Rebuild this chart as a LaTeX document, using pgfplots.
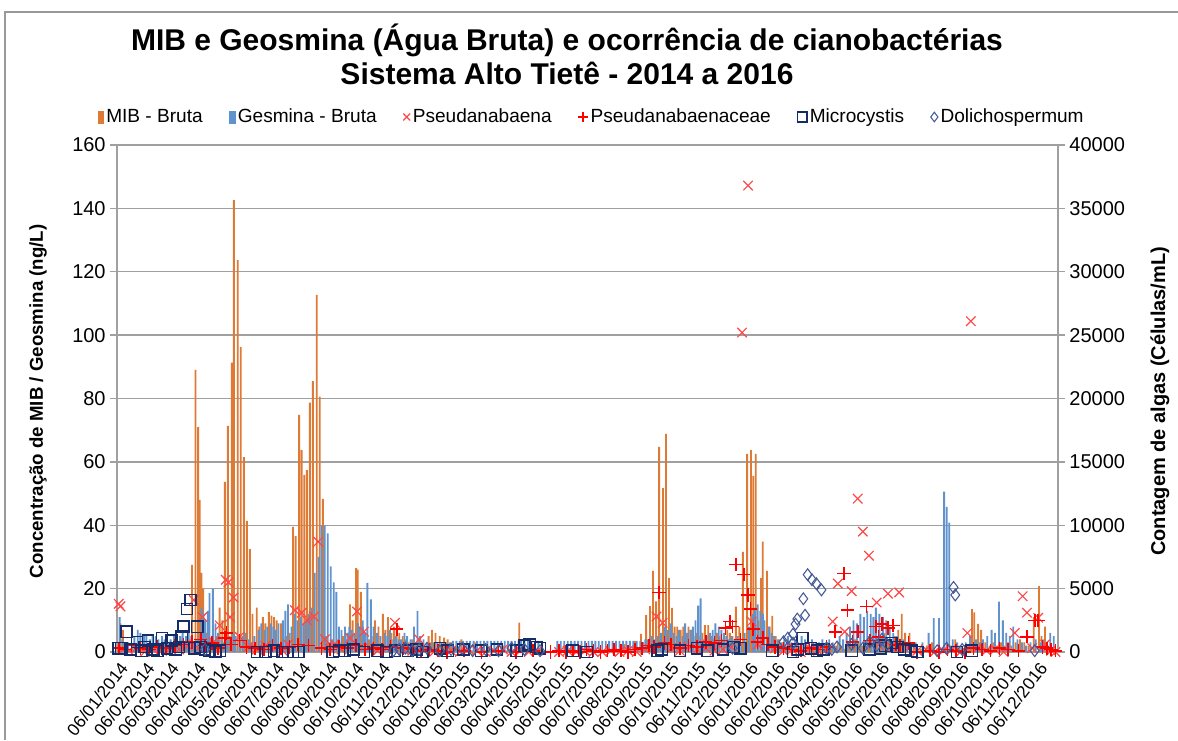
\documentclass[border=0pt]{standalone}
\usepackage{pgfplots}
\pgfplotsset{compat=1.18}
\usepackage{pgfplotstable}
\usepackage{fontspec}
\setmainfont{Liberation Sans}
\definecolor{mib}{RGB}{222,122,52}
\definecolor{geo}{RGB}{96,146,206}
\definecolor{pseu}{RGB}{255,70,70}
\definecolor{pseuc}{RGB}{255,0,0}
\definecolor{micro}{RGB}{20,45,105}
\definecolor{doli}{RGB}{70,90,150}
\definecolor{gridc}{RGB}{160,160,160}

\pgfplotstableread[row sep=\\]{
x mib geo \\
0 2 11 \\ 3 9 4 \\ 6 7 3 \\ 10 2 3 \\ 14 1 2 \\ 17 2 5 \\ 21 1 7 \\ 24 1 6 \\ 28 2 5 \\ 31 1 5 \\
35 1 4 \\ 38 2 5 \\ 42 1 5 \\ 45 2 4 \\ 49 1 5 \\ 52 2 4 \\ 56 1 3 \\ 59 1 4 \\ 63 2 5 \\ 66 3 4 \\
70 2 5 \\ 73 4 6 \\ 77 3 5 \\ 80 5 6 \\ 83 4 5 \\ 86 27.5 3 \\ 90 89 4 \\ 93 71 5 \\ 95 48 14 \\ 97 25 12 \\
99 20 10 \\ 102 6 13 \\ 104 5 18.6 \\ 108 4 20 \\ 111 3 9 \\ 114 5 6 \\ 118 14 4 \\ 121 10 3 \\ 124 53.7 4 \\ 127.5 71.4 5 \\
132 91.3 6 \\ 134.5 142.6 5 \\ 139 123.7 4 \\ 142.5 96.3 5 \\ 146 61.5 6 \\ 149.5 41.4 4 \\ 153 32.5 3 \\ 156 12 5 \\ 161 14 7 \\ 164 8 9 \\
168 11 7 \\ 171 9 8 \\ 175 12.6 9 \\ 178 11.5 8 \\ 181 11 7 \\ 184 10 9 \\ 189 9 10 \\ 192 5 13 \\ 195 5 15 \\ 199 6 8 \\
203 39.5 12 \\ 206 36.6 10 \\ 210 74.8 11 \\ 213 63.7 9 \\ 216 55.9 10 \\ 219 57.4 12 \\ 222.5 78.7 14 \\ 226 85.5 25 \\ 230.5 112.7 30 \\ 234 80.6 40 \\
237.5 48.3 40 \\ 241 5 37.4 \\ 244.5 3 27 \\ 248 4 22 \\ 251 3 19 \\ 254 4 8 \\ 257 3 7 \\ 261 5 8 \\ 264 4 6 \\ 266 6 8 \\
269 15 7 \\ 272 10 6 \\ 276 26.5 9 \\ 278 26 8 \\ 281.5 19 10 \\ 284 8 6 \\ 287 5 21.8 \\ 291 4 16.6 \\ 294 5 8 \\ 298 10 6 \\
302 8 5 \\ 307 12 6 \\ 310 7 5 \\ 313 11 7 \\ 317 6 4 \\ 320 8 5 \\ 323 7 4 \\ 326 6 4 \\ 330 5 6 \\ 333 4 5 \\
337 3 4 \\ 341 4 8 \\ 345 3 13 \\ 348 4 5 \\ 352 3 4 \\ 356 2 3 \\ 360 5 3 \\ 364 7 3 \\ 368 6 3 \\ 373 5 3 \\
378 4.5 3 \\ 382 4 3 \\ 386 3 3.5 \\ 390 1 3.5 \\ 394 0.5 3.5 \\ 398 4 3.5 \\ 402 0.5 3.5 \\ 406 1 3.5 \\ 410 0.5 3.5 \\ 414 3 3.5 \\
418 0.5 3.5 \\ 422 1 3.5 \\ 426 0.5 3.5 \\ 430 1 3.5 \\ 434 0.5 3.5 \\ 438 1 3.5 \\ 442 0.5 3.5 \\ 446 2 3.5 \\ 450 0.5 3.5 \\ 454 1 3.5 \\
458 0.5 3.5 \\ 462 1 3.5 \\ 465 9.3 3.5 \\ 469 0.5 3.5 \\ 473 1 3.5 \\ 477 0.5 3.5 \\ 481 1 3.5 \\ 485 0.5 3.5 \\ 489 1 3.5 \\ 507 0.5 3.5 \\
511 1 3.5 \\ 515 0.5 3.5 \\ 519 1 3.5 \\ 523 0.5 3.5 \\ 527 1 3.5 \\ 531 0.5 3.5 \\ 535 1 3.5 \\ 539 0.5 3.5 \\ 543 1 3.5 \\ 547 0.5 3.5 \\
551 1 3.5 \\ 555 0.5 3.5 \\ 559 1 3.5 \\ 563 0.5 3.5 \\ 567 1 3.5 \\ 571 0.5 3.5 \\ 575 1 3.5 \\ 579 0.5 3.5 \\ 583 1 3.5 \\ 587 2.5 3.5 \\
591 0.5 3.5 \\ 595 1 3.5 \\ 599 3.5 3.5 \\ 603 1 3.5 \\ 606 5.7 3 \\ 609 3 4 \\ 612 11.6 4 \\ 616.5 14.5 5 \\ 620 25.6 4 \\ 623.5 16 5 \\
627 64.7 6 \\ 631.5 51.7 8 \\ 635 68.8 7 \\ 638.5 23.4 9 \\ 642 13.9 6 \\ 645 8 5 \\ 648 8 7 \\ 652 7 5 \\ 655 8 9 \\ 658 6 6 \\
661 8 7 \\ 664 7 8 \\ 667 5 10 \\ 670 6 14.6 \\ 673 5 16.9 \\ 677 6 4 \\ 680 8.5 5 \\ 684 8.5 6 \\ 687 5 7 \\ 690 4 9 \\
694 6 8 \\ 697 5 7 \\ 700 4 6 \\ 703 5 5 \\ 706 7 4 \\ 709 6 5 \\ 712 5 4 \\ 716 14.3 5 \\ 720 8 3 \\ 724 31.6 6 \\
729 62.5 8 \\ 733.5 63.7 12 \\ 736 55.6 14 \\ 739 62.5 15 \\ 742 10 13 \\ 745 23.3 12 \\ 747 34.8 10 \\ 752 25.6 8 \\ 755 8 6 \\ 758 11.4 5 \\
762 5 4 \\ 766 4 3 \\ 770 3 4 \\ 774 2 5 \\ 778 3 3 \\ 782 2 4 \\ 786 3 3 \\ 790 2 5 \\ 794 1 4 \\ 798 2 3 \\
802 1 4 \\ 806 2 3 \\ 810 1 3 \\ 814 1 4 \\ 818 2 3 \\ 822 3 4 \\ 826 1 3 \\ 830 2 2 \\ 834 3 5 \\ 838 2 4 \\
842 1 6 \\ 846 3 8 \\ 850 2 10 \\ 854 4 9 \\ 858 3 12 \\ 862 2 11 \\ 866 3 13 \\ 870 5 12 \\ 873 4 11 \\ 876 3 14 \\
880 2 12 \\ 884 5 11 \\ 888 6 10 \\ 892 4 8 \\ 896 3 6 \\ 900 5 5 \\ 904 7 4 \\ 908 12 4 \\ 912 6 3 \\ 917 6 2 \\
922 2 3 \\ 930 1 3 \\ 937 2 6 \\ 943 3 10.7 \\ 949 1 10.7 \\ 955 1 50.6 \\ 958 1 45.8 \\ 961 1 40.8 \\ 965 2 4 \\ 970 4 3 \\
975 2 2 \\ 980 1 3 \\ 985 2 5 \\ 989.5 13.5 3 \\ 992 12.5 4 \\ 996.5 8.9 3 \\ 1000 7 4 \\ 1005 3 5 \\ 1010 2 7 \\ 1014 3 6 \\
1018.5 2 15.9 \\ 1023 3 10 \\ 1027 2 6 \\ 1031 3 5 \\ 1035 2 8 \\ 1040 3 4 \\ 1045 4 3 \\ 1050 3 2 \\ 1055 2 3 \\ 1061 11 4 \\
1067 20.8 3 \\ 1070 5 4 \\ 1074 8 3 \\ 1078 2 6 \\ 1082 1 5 \\
}\bars

\pgfplotsset{
  commonaxis/.style={
    scale only axis, width=705.75pt, height=380.25pt,
    at={(87.75pt,66pt)}, anchor=south west,
    xmin=-2, xmax=1088,
    tick label style={font=\fontsize{15}{15}\selectfont},
    /pgf/number format/assume math mode=true,
    /pgf/number format/1000 sep={},
  }
}

\begin{document}
\begin{tikzpicture}
% frame
\draw[gray!80, line width=0.8pt] (3.75pt,0pt) -- (3.75pt,546pt) -- (883.5pt,546pt);
% title
\node[align=center, font=\bfseries\fontsize{22.5}{25.5}\selectfont] at (425.25pt,514pt)
  {MIB e Geosmina (Água Bruta) e ocorrência de cianobactérias\\Sistema Alto Tietê - 2014 a 2016};
% y labels
\node[rotate=90, font=\bfseries\fontsize{14}{14}\selectfont] at (28.5pt,254pt) {Concentração de MIB / Geosmina (ng/L)};
\node[rotate=90, font=\bfseries\fontsize{15}{15}\selectfont] at (870pt,254pt) {Contagem de algas (Células/mL)};

\begin{axis}[commonaxis,
  ymin=0, ymax=160, ytick={0,20,...,160},
  axis x line*=bottom, axis y line*=left,
  axis line style={gridc, line width=1pt},
  ymajorgrids, grid style={gridc, line width=1pt},
  ytick style={gridc, line width=1pt}, tick align=outside, major tick length=5pt,
  xtick={0,31,59,90,120,151,181,212,243,273,304,334,365,396,424,455,485,516,546,577,608,638,669,699,730,761,790,821,851,882,912,943,974,1004,1035,1065},
  xticklabels={06/01/2014,06/02/2014,06/03/2014,06/04/2014,06/05/2014,06/06/2014,06/07/2014,06/08/2014,06/09/2014,06/10/2014,06/11/2014,06/12/2014,06/01/2015,06/02/2015,06/03/2015,06/04/2015,06/05/2015,06/06/2015,06/07/2015,06/08/2015,06/09/2015,06/10/2015,06/11/2015,06/12/2015,06/01/2016,06/02/2016,06/03/2016,06/04/2016,06/05/2016,06/06/2016,06/07/2016,06/08/2016,06/09/2016,06/10/2016,06/11/2016,06/12/2016},
  xtick style={draw=none},
  xticklabel style={rotate=52, anchor=north east, inner sep=1pt, font=\fontsize{13}{13}\selectfont},
  ybar=0pt, bar width=1.4pt,
]
\addplot[draw=none, fill=mib] table[x=x, y=mib] {\bars};
\addplot[draw=none, fill=geo] table[x=x, y=geo] {\bars};
\end{axis}

\begin{axis}[commonaxis,
  ymin=0, ymax=40000, ytick={0,5000,...,40000},
  axis x line=none, axis y line*=right,
  axis line style={gridc, line width=1pt},
  ytick style={gridc, line width=1pt}, tick align=outside, major tick length=5pt,
  scaled y ticks=false,
  clip=false,
  legend style={at={(0.5048,1.0552)}, anchor=center, draw=none, fill=none,
    legend columns=-1, font=\fontsize{14.3}{15}\selectfont,
    /tikz/every even column/.append style={column sep=18pt},
    /tikz/every odd column/.append style={column sep=0pt}},
  legend cell align=left,
]
\addlegendimage{legend image code/.code={\fill[mib] (0pt,-5pt) rectangle (4pt,4pt);}}
\addlegendentry{MIB - Bruta}
\addlegendimage{legend image code/.code={\fill[geo] (0pt,-5pt) rectangle (4pt,4pt);}}
\addlegendentry{Gesmina - Bruta}

\pgfplotsset{every axis plot/.append style={legend image code/.code={\draw[#1, mark size=3.6pt] plot coordinates {(0.12cm,0cm)};}}}

\addplot[only marks, mark=x, mark size=5pt, pseu, line width=0.9pt] coordinates {
(0,3800) (2,3600) (87,4100) (97,2760) (110,800) (117,2100) (124,5700) (127,5500) (133,4300) (129,2760) (140,1200)
(204,3300) (212,3100) (218,2500) (226,2800) (231,8700) (239,1000) (268,1100) (276,3200) (284,1600) (320,2300) (348,1000)
(623,2800) (630,2300) (722,25200) (729,36800) (733,2400)
(827,2400) (833,5400) (841,1600) (849,4800) (856,12100) (862,9500) (869,7600) (878,3900) (891,4600) (904,4700)
(983,1500) (987,26100) (1038,1500) (1047,4400) (1052,3100) (1065,2700) (1073,600)
(5,200) (12,100) (20,300) (30,0) (40,200) (50,100) (60,300) (70,200) (80,500) (92,300) (104,600) (150,400) (160,200)
(170,500) (180,300) (190,100) (196,600) (245,300) (250,600) (258,200) (290,400) (300,100) (310,300) (330,200) (340,100)
(356,300) (365,0) (375,200) (385,100) (395,0) (405,200) (415,100) (425,0) (435,100) (445,200) (455,0) (465,100) (475,0)
(485,100) (510,0) (520,100) (530,0) (540,100) (550,0) (560,0) (570,100) (580,0) (590,100) (600,0) (610,200) (640,300)
(650,100) (660,400) (670,200) (680,300) (690,100) (700,200) (710,400) (740,600) (760,300) (770,100) (780,200) (790,0)
(800,300) (810,100) (820,200) (880,600) (895,400) (915,300) (925,100) (935,200) (945,0) (955,100) (965,200) (975,0)
(995,300) (1005,100) (1015,200) (1025,0) (1058,300) (1080,100) (1085,0)
};
\addlegendentry{Pseudanabaena}

\addplot[only marks, mark=+, mark size=5pt, pseuc, line width=1.2pt] coordinates {
(626,4700) (632,700) (703,1900) (708,2400) (711,2000) (715,6900) (724,6100) (729,4500) (732,3400) (735,1800) (746,1100)
(830,1600) (840,6200) (844,3300) (856,1600) (866,3600) (877,2000) (884,2200) (891,1900) (897,2100) (915,700)
(1052,1200) (1061,2500) (1065,2500) (123,1100) (125,1500) (322,1800)
(0,300) (8,200) (15,500) (25,300) (35,200) (45,400) (55,300) (65,500) (75,600) (85,800) (95,1000) (100,500) (108,700)
(115,300) (130,600) (140,900) (148,400) (158,300) (168,200) (178,500) (188,300) (198,400) (208,600) (220,500) (235,300)
(245,200) (255,400) (265,300) (275,500) (285,200) (295,300) (305,200) (315,400) (330,300) (340,200) (350,100) (360,200)
(370,100) (380,0) (400,100) (420,0) (440,100) (460,0) (480,100) (500,0) (510,100) (518,0) (526,100) (534,0) (542,200)
(550,100) (558,0) (566,100) (574,200) (582,100) (590,0) (598,200) (606,300) (614,500) (620,400) (640,600) (650,300)
(660,500) (670,400) (680,800) (690,700) (698,900) (720,1000) (740,800) (752,600) (760,400) (770,300) (780,200) (790,100)
(800,300) (810,200) (820,400) (850,800) (870,900) (880,1200) (900,600) (905,500) (925,0) (940,100) (950,0) (960,200)
(970,100) (980,0) (990,300) (1000,200) (1010,100) (1020,300) (1030,200) (1042,100) (1070,400) (1075,300) (1080,200) (1085,100)
};
\addlegendentry{Pseudanabaenaceae}

\addplot[only marks, mark=square, mark size=4.2pt, micro, line width=1.1pt] coordinates {
(9,1600) (21,800) (34,900) (50,1100) (61,900) (73,1200) (75,2000) (79,3400) (83,4100) (91,2000)
(0,300) (3,300) (14,200) (26,100) (30,400) (40,200) (45,100) (56,300) (66,200) (70,400) (88,300) (95,400) (100,200)
(105,100) (112,0) (117,100) (160,0) (170,0) (180,100) (190,0) (196,0) (202,0) (208,0) (248,0) (255,100) (262,100)
(272,200) (284,0) (300,100) (310,0) (320,100) (335,100) (345,200) (352,0) (372,300)
(381,100) (399,200) (420,100) (438,200) (461,100) (470,500) (476,600) (484,400) (488,300) (526,100) (542,0)
(624,100) (629,200) (650,100) (670,300) (682,100) (700,200) (712,400) (720,300) (757,100) (781,0) (787,200) (792,1100)
(802,300) (809,100) (816,200) (849,100) (870,200) (882,300) (888,500) (895,700) (902,400) (910,200) (918,100) (925,0)
(971,0) (988,100)
};
\addlegendentry{Microcystis}

\addplot[only marks, mark=diamond, mark size=4.4pt, doli, line width=0.8pt] coordinates {
(798,6100) (803,5700) (808,5400) (814,4900) (793,4200) (795,2900) (786,2600) (784,2200) (781,1400) (967,5100) (969,4500)
(100,200) (318,100) (325,200) (332,300) (340,100) (348,200) (357,300) (372,100) (385,200) (398,300) (410,100) (425,200)
(440,100) (455,300) (470,200) (488,100) (711,300) (770,800) (775,1100) (781,700) (820,300) (826,200) (832,400)
(849,600) (862,300) (870,800) (878,500) (884,1000) (890,600) (948,100) (959,300) (977,200) (1061,100)
};
\addlegendentry{Dolichospermum}
\end{axis}

\pgfresetboundingbox
\path (0pt,0pt) rectangle (883.5pt,555pt);
\end{tikzpicture}
\end{document}
